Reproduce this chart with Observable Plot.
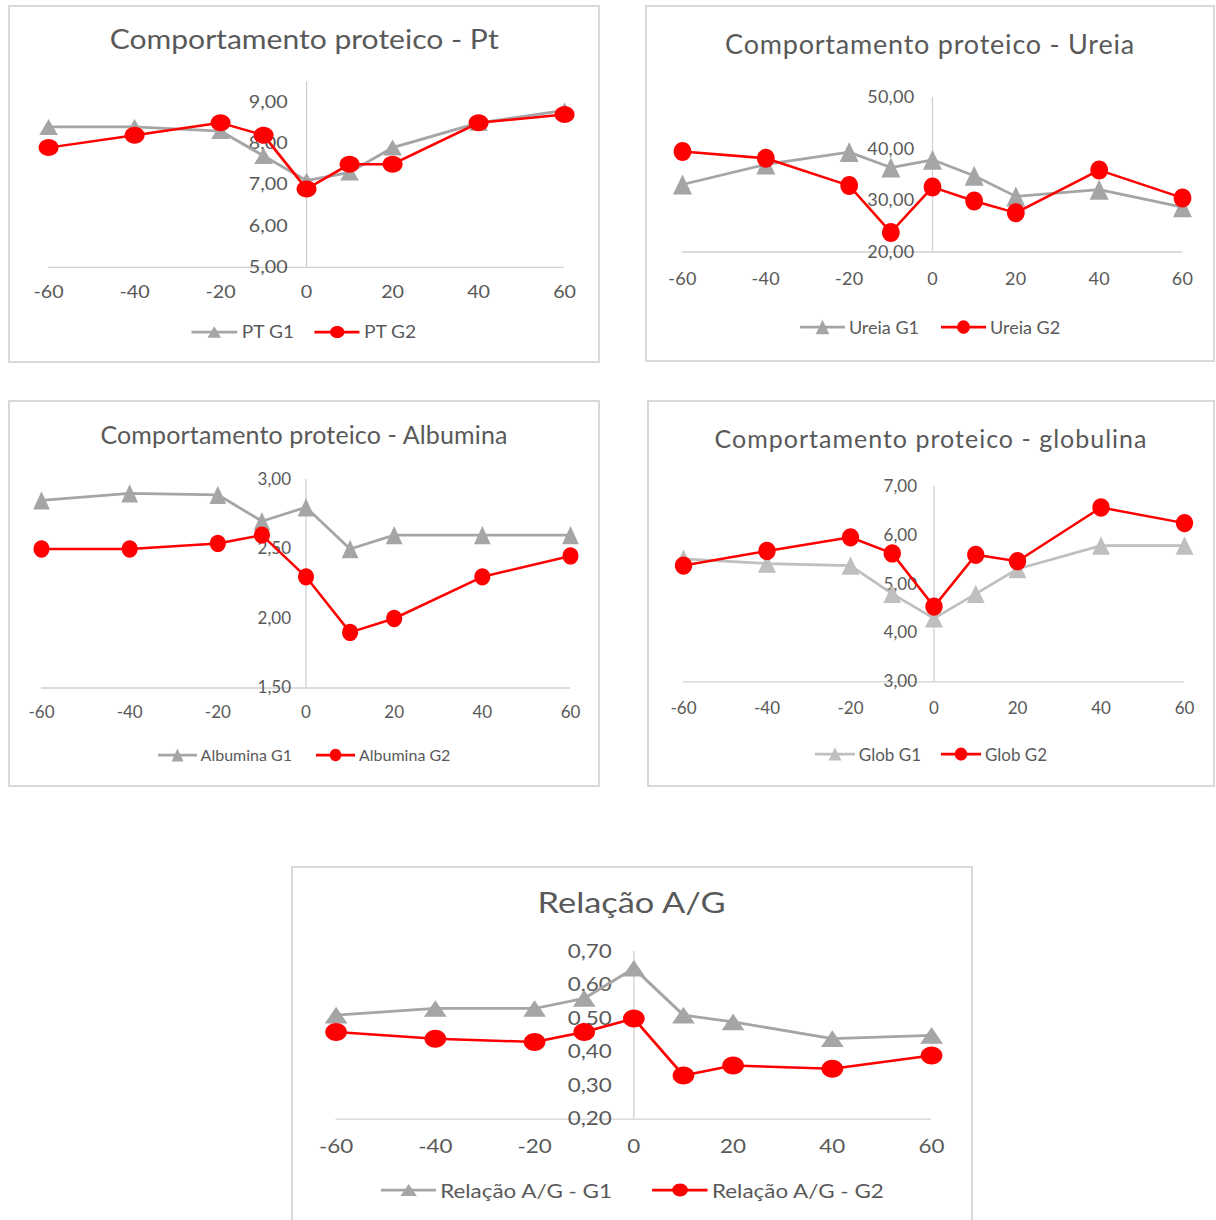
<!DOCTYPE html>
<html>
<head>
<meta charset="utf-8">
<script src="https://cdn.jsdelivr.net/npm/d3@7"></script>
<script src="https://cdn.jsdelivr.net/npm/@observablehq/plot@0.6"></script>
<style>
  body { margin: 0; background: #fff; }
  #root { position: relative; width: 1216px; height: 1220px; overflow: hidden;
          font-family: Lato, "Open Sans", sans-serif; color: #595959; background: #fff; }
  .panel { position: absolute; box-sizing: border-box; border: 2px solid #d9d9d9; background: #fff; }
  .title { position: absolute; text-align: center; white-space: nowrap; line-height: 1; color: #595959; }
  .title span { display: inline-block; transform-origin: 50% 50%; }
  .legend { position: absolute; display: flex; justify-content: center; align-items: center;
            white-space: nowrap; height: 24px; color: #595959; transform-origin: 0 50%; }
  .legend span { line-height: 1; }
  .plot { position: absolute; transform-origin: 0 0; }
</style>
</head>
<body>
<div id="root"></div>
<script>
// Dias em relação ao evento (eixo horizontal)
const dias = [-60, -40, -20, -10, 0, 10, 20, 40, 60];
const xTicks = [-60, -40, -20, 0, 20, 40, 60];

// Proteína total
const ptG1 = [8.4, 8.4, 8.3, 7.7, 7.1, 7.3, 7.9, 8.5, 8.8];
const ptG2 = [7.9, 8.2, 8.5, 8.2, 6.9, 7.5, 7.5, 8.5, 8.7];
const ptTicks = [5, 6, 7, 8, 9];

// Ureia
const ureiaG1 = [33.1, 37.0, 39.4, 36.4, 37.9, 34.8, 30.8, 32.1, 28.7];
const ureiaG2 = [39.5, 38.2, 32.9, 23.8, 32.6, 29.9, 27.6, 35.9, 30.5];
const ureiaTicks = [20, 30, 40, 50];

// Albumina
const albG1 = [2.85, 2.90, 2.89, 2.70, 2.80, 2.50, 2.60, 2.60, 2.60];
const albG2 = [2.50, 2.50, 2.54, 2.60, 2.30, 1.90, 2.00, 2.30, 2.45];
const albTicks = [1.5, 2.0, 2.5, 3.0];

// Globulina
const globG1 = [5.52, 5.42, 5.38, 4.80, 4.30, 4.80, 5.31, 5.79, 5.79];
const globG2 = [5.38, 5.68, 5.96, 5.63, 4.54, 5.60, 5.47, 6.57, 6.25];
const globTicks = [3, 4, 5, 6, 7];

// Relação albumina/globulina
const agG1 = [0.51, 0.53, 0.53, 0.56, 0.65, 0.51, 0.49, 0.44, 0.45];
const agG2 = [0.46, 0.44, 0.43, 0.46, 0.50, 0.33, 0.36, 0.35, 0.39];
const agTicks = [0.2, 0.3, 0.4, 0.5, 0.6, 0.7];

const seriesTitles = ["Comportamento proteico - Pt", "Comportamento proteico - Ureia",
  "Comportamento proteico - Albumina", "Comportamento proteico - globulina", "Relação A/G"];
const legendLabels = [["PT G1", "PT G2"], ["Ureia G1", "Ureia G2"], ["Albumina G1", "Albumina G2"],
  ["Glob G1", "Glob G2"], ["Relação A/G - G1", "Relação A/G - G2"]];

const RED = "#ff0000";
const fmt = d => d3.format(".2f")(d).replace(".", ",");

// Marker shapes sized in pixels (width, height)
function ellipseSymbol(w, h) {
  const rx = w / 2, ry = h / 2, c = 0.5523;
  return { draw(ctx) {
    ctx.moveTo(rx, 0);
    ctx.bezierCurveTo(rx, c * ry, c * rx, ry, 0, ry);
    ctx.bezierCurveTo(-c * rx, ry, -rx, c * ry, -rx, 0);
    ctx.bezierCurveTo(-rx, -c * ry, -c * rx, -ry, 0, -ry);
    ctx.bezierCurveTo(c * rx, -ry, rx, -c * ry, rx, 0);
    ctx.closePath();
  }};
}
function triangleSymbol(w, h) {
  return { draw(ctx) {
    ctx.moveTo(0, -h / 2);
    ctx.lineTo(w / 2, h / 2);
    ctx.lineTo(-w / 2, h / 2);
    ctx.closePath();
  }};
}

// Panel layout: frame box, title, plot area, legend placement and horizontal stretch (sx)
const panels = [
  { g1: ptG1, g2: ptG2, ticks: ptTicks, axisTop: 9.5, sx: 1.16,
    box: [8, 5, 600, 363], titleY: 40, titleSize: 26, titleW: 389, titleFit: "scale",
    xPx: [48, 564], yPx: [267.3, 102], tickSize: 17, tickLs: 0, xdy: 25, ygap: 19,
    c1: "#a5a5a5", circ: [20, 17], tri: [18.7, 16],
    legendY: 332, legendSize: 16.5, legendLs: 0, swatch: 46, gap: 20 },
  { g1: ureiaG1, g2: ureiaG2, ticks: ureiaTicks, axisTop: 50, sx: 1,
    box: [645, 5, 1215, 362], titleY: 45, titleSize: 27, titleW: 409, titleFit: "ls",
    xPx: [682, 1182], yPx: [251, 96.5], tickSize: 18, tickLs: 0.3, xdy: 27, ygap: 18,
    c1: "#a5a5a5", circ: [17.7, 19], tri: [19, 20],
    legendY: 327, legendSize: 18, legendLs: 0, swatch: 45, gap: 22 },
  { g1: albG1, g2: albG2, ticks: albTicks, axisTop: 3, sx: 1,
    box: [8, 400, 600, 787], titleY: 436, titleSize: 25, titleW: 407, titleFit: "ls",
    xPx: [41, 570], yPx: [687, 478.5], tickSize: 17, tickLs: 0, xdy: 25, ygap: 15,
    c1: "#a5a5a5", circ: [16, 17.3], tri: [16.7, 18.3],
    legendY: 755, legendSize: 16, legendLs: 0, swatch: 39, gap: 24 },
  { g1: globG1, g2: globG2, ticks: globTicks, axisTop: 7, sx: 1,
    box: [647, 400, 1215, 787], titleY: 440, titleSize: 25, titleW: 432, titleFit: "ls",
    xPx: [683, 1184], yPx: [681, 485.7], tickSize: 17, tickLs: 0, xdy: 27, ygap: 17,
    c1: "#bfbfbf", circ: [17.3, 18.3], tri: [18, 18.3],
    legendY: 754, legendSize: 17, legendLs: 0, swatch: 40, gap: 20 },
  { g1: agG1, g2: agG2, ticks: agTicks, axisTop: 0.7, sx: 1.18,
    box: [291, 866, 973, 1260], titleY: 903, titleSize: 28, titleW: 188, titleFit: "scale",
    xPx: [335.5, 931], yPx: [1118.3, 950.7], tickSize: 19, tickLs: 0, xdy: 28, ygap: 22,
    c1: "#a5a5a5", circ: [21.7, 18], tri: [22.7, 16.7],
    legendY: 1190, legendSize: 19, legendLs: 0, swatch: 56, gap: 40 }
];

const root = document.getElementById("root");

function fitText(span, target, mode) {
  span.style.letterSpacing = "0px";
  const w = span.getBoundingClientRect().width;
  if (mode === "scale") {
    span.style.transform = `scaleX(${target / w})`;
  } else {
    const n = span.textContent.length;
    span.style.letterSpacing = ((target - w) / Math.max(1, n - 1)) + "px";
  }
}

function swatch(color, w, isTri, p) {
  const h = 24;
  const s = d3.create("svg").attr("width", w).attr("height", h).style("display", "block");
  s.append("line").attr("x1", 0).attr("x2", w).attr("y1", h / 2).attr("y2", h / 2)
    .attr("stroke", color).attr("stroke-width", 2.75);
  const size = isTri ? p.tri : p.circ;
  const mw = size[0] * 0.72 / p.sx, mh = size[1] * 0.72;
  const sym = isTri ? triangleSymbol(mw, mh) : ellipseSymbol(mw, mh);
  s.append("path").attr("transform", `translate(${w / 2},${h / 2})`)
    .attr("d", d3.symbol(sym)()).attr("fill", color);
  return s.node();
}

panels.forEach((p, i) => {
  const [L, T, R, B] = p.box;
  const width = R - L;
  const sx = p.sx;

  const frame = document.createElement("div");
  frame.className = "panel";
  Object.assign(frame.style, { left: L + "px", top: T + "px", width: width + "px", height: (B - T) + "px" });
  root.appendChild(frame);

  // Title
  const title = document.createElement("div");
  title.className = "title";
  Object.assign(title.style, { left: L + "px", width: width + "px",
    top: (p.titleY - p.titleSize * 0.55) + "px", fontSize: p.titleSize + "px" });
  const tspan = document.createElement("span");
  tspan.textContent = seriesTitles[i];
  title.appendChild(tspan);
  root.appendChild(title);
  fitText(tspan, p.titleW, p.titleFit);

  // Plot
  const ymin = p.ticks[0], yref = p.ticks[p.ticks.length - 1];
  const k = (p.yPx[0] - p.yPx[1]) / (yref - ymin);
  const topPx = p.yPx[0] - (p.axisTop - ymin) * k;
  const svgTop = topPx - 24;
  const svgBottom = p.yPx[0] + 48;

  const rows1 = dias.map((d, j) => ({ dia: d, v: p.g1[j] }));
  const rows2 = dias.map((d, j) => ({ dia: d, v: p.g2[j] }));

  const chart = Plot.plot({
    width: width / sx,
    height: svgBottom - svgTop,
    marginLeft: (p.xPx[0] - L) / sx,
    marginRight: (R - p.xPx[1]) / sx,
    marginTop: topPx - svgTop,
    marginBottom: svgBottom - p.yPx[0],
    x: { domain: [-60, 60], axis: null },
    y: { domain: [ymin, p.axisTop], axis: null },
    style: { fontFamily: "Lato, 'Open Sans', sans-serif", color: "#595959", background: "transparent",
             overflow: "visible", letterSpacing: p.tickLs + "px" },
    marks: [
      Plot.ruleY([ymin], { x1: -60, x2: 60, stroke: "#d0d0d0", strokeWidth: 1.3 }),
      Plot.ruleX([0], { y1: ymin, y2: p.axisTop, stroke: "#d0d0d0", strokeWidth: 1.3 / sx }),
      Plot.text(p.ticks, { x: 0, y: d => d, text: fmt, textAnchor: "end", dx: -p.ygap / sx,
                           fill: "#595959", fontSize: p.tickSize }),
      Plot.text(xTicks, { x: d => d, y: ymin, dy: p.xdy, text: d => String(d),
                          fill: "#595959", fontSize: p.tickSize }),
      Plot.line(rows1, { x: "dia", y: "v", stroke: p.c1, strokeWidth: 2.75 }),
      Plot.dot(rows1, { x: "dia", y: "v", r: 8, symbol: triangleSymbol(p.tri[0] / sx, p.tri[1]), fill: p.c1 }),
      Plot.line(rows2, { x: "dia", y: "v", stroke: RED, strokeWidth: 2.5 }),
      Plot.dot(rows2, { x: "dia", y: "v", r: 8, symbol: ellipseSymbol(p.circ[0] / sx, p.circ[1]), fill: RED })
    ]
  });
  chart.classList.add("plot");
  Object.assign(chart.style, { left: L + "px", top: svgTop + "px", transform: `scaleX(${sx})` });
  root.appendChild(chart);

  // Legend
  const legend = document.createElement("div");
  legend.className = "legend";
  Object.assign(legend.style, { left: L + "px", width: (width / sx) + "px", top: (p.legendY - 12) + "px",
    fontSize: p.legendSize + "px", letterSpacing: p.legendLs + "px", gap: (p.gap / sx) + "px",
    transform: `scaleX(${sx})` });
  [[p.c1, true], [RED, false]].forEach(([color, isTri], j) => {
    const item = document.createElement("div");
    Object.assign(item.style, { display: "flex", alignItems: "center", gap: (4 / sx) + "px" });
    item.appendChild(swatch(color, p.swatch / sx, isTri, p));
    const lab = document.createElement("span");
    lab.textContent = legendLabels[i][j];
    item.appendChild(lab);
    legend.appendChild(item);
  });
  root.appendChild(legend);
});
</script>
</body>
</html>
